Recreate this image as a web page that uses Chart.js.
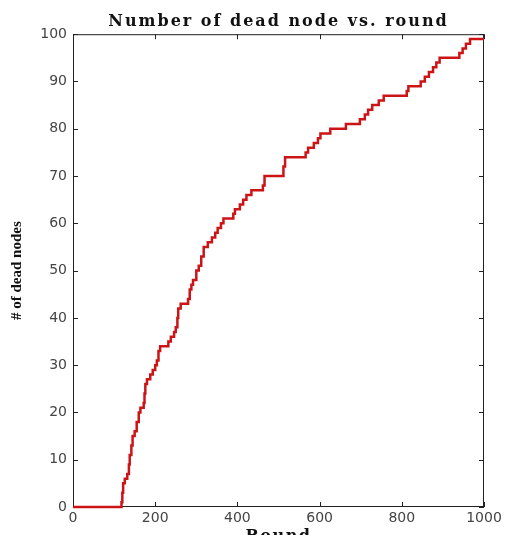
<!DOCTYPE html>
<html>
<head>
<meta charset="utf-8">
<script src="https://cdn.jsdelivr.net/npm/chart.js@4/dist/chart.umd.min.js"></script>
<style>
  html, body { margin: 0; padding: 0; background: #fff; }
  #wrap { width: 505px; height: 535px; }
</style>
</head>
<body>
<div id="wrap"><canvas id="deadChart" width="505" height="535"></canvas></div>
<script>
// step data: round at which the count changes, and the new count
var rounds = [0, 118, 120, 122, 126, 132, 136, 138, 142, 145, 150, 155, 160, 164, 172, 174, 176, 180, 188, 194,
    200, 204, 208, 212, 232, 238, 246, 250, 254, 256, 262, 280, 284, 288, 292, 300, 306, 312, 318, 328,
    338, 346, 352, 360, 366, 390, 394, 406, 414, 422, 434, 462, 466, 512, 516, 566, 572, 586, 596, 602,
    626, 664, 698, 710, 718, 728, 744, 756, 812, 816, 846, 856, 866, 876, 884, 892, 940, 948, 956, 966, 1000];
var deadNodes = [0, 1, 3, 5, 6, 7, 9, 11, 13, 15, 16, 18, 20, 21, 22, 24, 26, 27, 28, 29,
    30, 31, 33, 34, 35, 36, 37, 38, 40, 42, 43, 44, 46, 47, 48, 50, 51, 53, 55, 56,
    57, 58, 59, 60, 61, 62, 63, 64, 65, 66, 67, 68, 70, 72, 74, 75, 76, 77, 78, 79,
    80, 81, 82, 83, 84, 85, 86, 87, 88, 89, 90, 91, 92, 93, 94, 95, 96, 97, 98, 99, 99];

var xTicks = [0, 200, 400, 600, 800, 1000];
var yTicks = [0, 10, 20, 30, 40, 50, 60, 70, 80, 90, 100];

var points = rounds.map(function (r, i) { return { x: r, y: deadNodes[i] }; });

// wider spacing for the serif title texts, title centred over the plot box
function spaced(obj, fn, sp, chart, centre) {
    if (!obj || obj['_sp_' + fn]) return;
    var orig = obj[fn];
    obj[fn] = function () {
        var c = chart.ctx;
        c.save();
        c.letterSpacing = sp;
        if (centre) {
            var a = chart.chartArea;
            c.translate((a.left + a.right) / 2 - (this.left + this.right) / 2, 0);
        }
        orig.apply(this, arguments);
        c.restore();
    };
    obj['_sp_' + fn] = true;
}

// matlab style box with inward ticks on all four sides
var boxTicks = {
    id: 'boxTicks',
    beforeDraw: function (chart) {
        spaced(chart.titleBlock, 'draw', '2px', chart, true);
        spaced(chart.scales.x, 'drawTitle', '1.5px', chart, false);
    },
    beforeDatasetsDraw: function (chart) {
        var c = chart.ctx, a = chart.chartArea;
        var xs = chart.scales.x, ys = chart.scales.y;
        c.save();
        c.strokeStyle = '#222';
        c.lineWidth = 1;
        c.strokeRect(a.left + 0.5, a.top + 0.5, a.right - a.left - 1, a.bottom - a.top - 1);
        c.beginPath();
        xTicks.forEach(function (v) {
            var px = Math.round(xs.getPixelForValue(v)) + 0.5;
            c.moveTo(px, a.bottom); c.lineTo(px, a.bottom - 5);
            c.moveTo(px, a.top); c.lineTo(px, a.top + 5);
        });
        yTicks.forEach(function (v) {
            var py = Math.round(ys.getPixelForValue(v)) + 0.5;
            c.moveTo(a.left, py); c.lineTo(a.left + 5, py);
            c.moveTo(a.right, py); c.lineTo(a.right - 5, py);
        });
        c.stroke();
        c.restore();
    }
};

var ctx = document.getElementById('deadChart');

var chart = new Chart(ctx, {
    type: 'line',
    data: {
        datasets: [{
            data: points,
            stepped: 'before',
            borderColor: '#cc1417',
            borderWidth: 2.5,
            pointRadius: 0,
            fill: false,
            clip: 3
        }]
    },
    options: {
        responsive: false,
        animation: false,
        layout: { padding: { left: 0, right: 21, top: 0, bottom: 0 } },
        plugins: {
            legend: { display: false },
            tooltip: { enabled: false },
            title: {
                display: true,
                text: 'Number of dead node vs. round',
                color: '#111',
                font: { family: 'DejaVu Serif', size: 16, weight: 'bold' },
                padding: { top: 12, bottom: 3 }
            }
        },
        scales: {
            x: {
                type: 'linear',
                min: 0,
                max: 1000,
                afterBuildTicks: function (s) { s.ticks = xTicks.map(function (v) { return { value: v }; }); },
                afterFit: function (s) { s.height = 28; },
                grid: { display: false, drawTicks: false },
                border: { display: false },
                ticks: {
                    padding: 3,
                    color: '#444',
                    font: { family: 'DejaVu Sans', size: 14 },
                    maxRotation: 0,
                    callback: function (v) { return String(v); }
                },
                title: {
                    display: true,
                    text: 'Round',
                    color: '#111',
                    font: { family: 'DejaVu Serif', size: 16, weight: 'bold' },
                    padding: { top: 0, bottom: -11 }
                }
            },
            y: {
                min: 0,
                max: 100,
                afterBuildTicks: function (s) { s.ticks = yTicks.map(function (v) { return { value: v }; }); },
                afterFit: function (s) { s.width = 73; },
                grid: { display: false, drawTicks: false },
                border: { display: false },
                ticks: {
                    padding: 6,
                    color: '#444',
                    font: { family: 'DejaVu Sans', size: 14 },
                    callback: function (v) { return String(v); }
                },
                title: {
                    display: true,
                    text: '# of dead nodes',
                    color: '#111',
                    font: { family: 'Liberation Serif', size: 15, weight: 'bold' },
                    padding: { top: 8, bottom: 0 }
                }
            }
        }
    },
    plugins: [boxTicks]
});
</script>
</body>
</html>
